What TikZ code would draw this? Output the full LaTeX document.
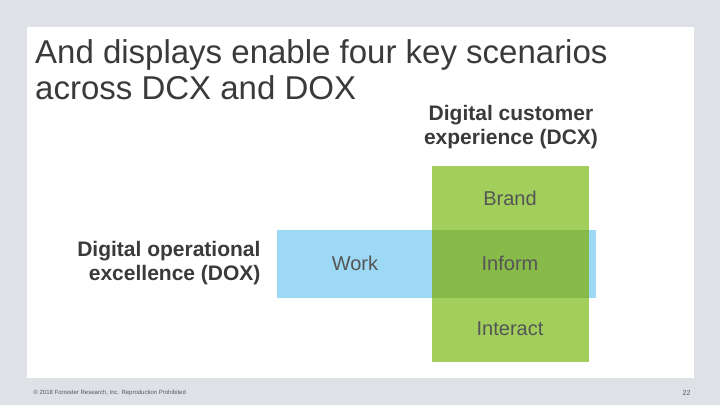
\documentclass[tikz,border=0pt]{standalone}
\usepackage{fontspec}
\setmainfont{Liberation Sans}
\definecolor{bg}{HTML}{DEE2E6}
\definecolor{grn}{HTML}{A2CF5C}
\definecolor{grnd}{HTML}{88BA4A}
\definecolor{blu}{HTML}{9DD9F4}
\definecolor{txt}{HTML}{3A3A3A}
\definecolor{lbl}{HTML}{555555}
\tikzset{head/.style={font=\fontsize{21}{24}\selectfont\bfseries,text=txt,align=center},
lab/.style={font=\fontsize{20}{22}\selectfont,text=lbl}}
\begin{document}
\begin{tikzpicture}[x=1pt,y=-1pt]
\fill[bg] (0,0) rectangle (720,405);
\fill[white] (27,27) rectangle (694,378);
\node[anchor=west,font=\fontsize{33}{36}\selectfont,text=txt,align=left,inner sep=0pt] (title) at (35,70) {And displays enable four key scenarios\\across DCX and DOX};
\fill[grn] (432,166) rectangle (589,362);
\fill[blu] (277,230) rectangle (596,298);
\fill[grnd] (432,230) rectangle (589,298);
\node[head] (dcx) at (511,127) {Digital customer\\experience (DCX)};
\node[head,align=right,anchor=east] (dox) at (264,263) {Digital operational\\excellence (DOX)};
\node[lab] (work) at (355,263) {Work};
\node[lab] (brand) at (510,198) {Brand};
\node[lab] (inform) at (510,263) {Inform};
\node[lab] (interact) at (510,329) {Interact};
\node[anchor=west,font=\fontsize{6}{7}\selectfont,text=lbl] (foot) at (30,393) {© 2018 Forrester Research, Inc. Reproduction Prohibited};
\node[anchor=east,font=\fontsize{7}{8}\selectfont,text=lbl] (pg) at (694,393) {22};
\end{tikzpicture}
\end{document}
